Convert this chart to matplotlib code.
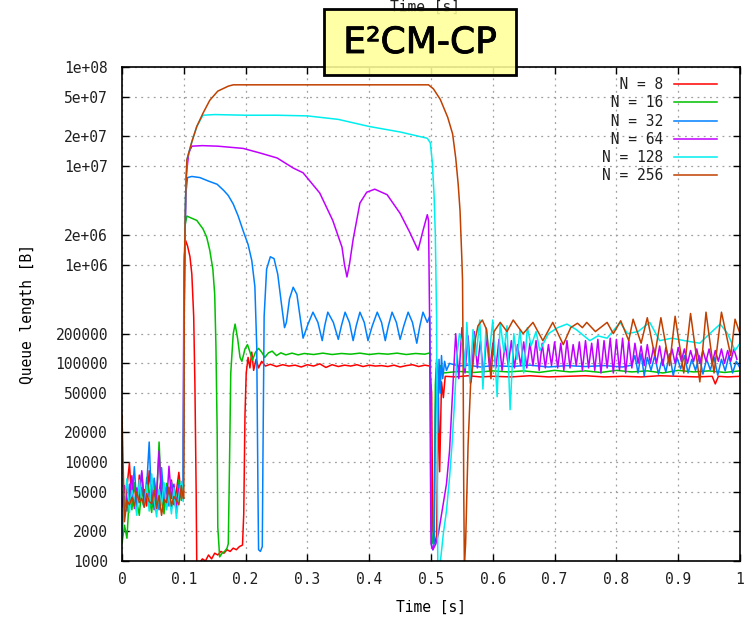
"""
E2CM-CP queue length vs time, N = 8 .. 256 (gnuplot-style log plot).
"""
import matplotlib
matplotlib.use("Agg")
import matplotlib.pyplot as plt
import matplotlib.patheffects as pe
from matplotlib.patches import Rectangle

# --- data ---------------------------------------------------------------
# shared sample times for the noisy start (0 .. 0.1 s)
PRE_T = [0.000, 0.004, 0.008, 0.012, 0.016, 0.020, 0.024, 0.028, 0.032, 0.036,
         0.040, 0.044, 0.048, 0.052, 0.056, 0.060, 0.064, 0.068, 0.072, 0.076,
         0.080, 0.084, 0.088, 0.092, 0.096, 0.099]

red_pre = [4200, 3400, 5600, 9800, 3900, 6100, 3300, 7400, 4600, 5300,
           3600, 8200, 4100, 6400, 3500, 4900, 7200, 3800, 5400, 4300,
           6600, 3700, 5100, 7900, 4400, 6800]
green_pre = [1500, 2300, 1700, 4800, 3300, 6200, 4000, 2900, 5500, 3600,
             7000, 4400, 3100, 5800, 3900, 16000, 4200, 3000, 6100, 4700,
             3400, 5200, 3800, 6600, 4100, 5000]
blue_pre = [2000, 4500, 3200, 6000, 4100, 9000, 3500, 5300, 7800, 4000,
            5800, 16000, 3700, 6900, 4500, 3300, 8800, 4200, 5600, 3600,
            6300, 4700, 3100, 5900, 4400, 5200]
magenta_pre = [3500, 5800, 3900, 4600, 7300, 3400, 5500, 4200, 8200, 3800,
               5100, 4500, 6800, 3300, 4900, 13000, 4100, 5700, 3500, 9100,
               4300, 6000, 3700, 5400, 4800, 4600]
cyan_pre = [1800, 3900, 6800, 3100, 5200, 4300, 2900, 6600, 4000, 3500,
            5900, 3200, 7600, 4100, 2800, 5300, 3700, 6200, 3300, 4700,
            3000, 5500, 2700, 4600, 6400, 4000]
brown_pre = [30000, 2500, 4100, 3700, 4400, 3600, 5000, 3900, 4300, 3500,
             4800, 4000, 3800, 5200, 3400, 4600, 2900, 4200, 3900, 5600,
             3600, 4500, 4100, 3700, 5800, 4300]

# (time [s], queue [B]) after t = 0.1 s
red_pts = [
    (0.100, 3.0e4), (0.101, 1.2e6), (0.103, 1.75e6), (0.106, 1.55e6), (0.110, 1.2e6),
    (0.113, 8.0e5), (0.116, 3.0e5), (0.118, 6.0e4), (0.120, 5.0e3), (0.121, 900),
    (0.125, 950), (0.130, 1050), (0.135, 1000), (0.140, 1150), (0.145, 1050),
    (0.150, 1200), (0.155, 1150), (0.160, 1250), (0.165, 1200), (0.170, 1300),
    (0.175, 1250), (0.180, 1350), (0.185, 1300), (0.190, 1400), (0.195, 1450),
    (0.197, 3000), (0.199, 3.0e4), (0.201, 8.0e4), (0.204, 1.15e5), (0.207, 9.0e4),
    (0.210, 1.3e5), (0.213, 8.5e4), (0.217, 1.1e5), (0.221, 9.0e4), (0.226, 1.05e5),
    (0.232, 9.4e4), (0.240, 9.8e4), (0.250, 9.3e4), (0.260, 9.7e4), (0.270, 9.4e4),
    (0.280, 9.6e4), (0.290, 9.2e4), (0.300, 9.7e4), (0.310, 9.4e4), (0.320, 9.9e4),
    (0.330, 9.1e4), (0.340, 9.7e4), (0.350, 9.3e4), (0.360, 9.6e4), (0.370, 9.4e4),
    (0.380, 9.7e4), (0.390, 9.3e4), (0.400, 9.6e4), (0.410, 9.4e4), (0.420, 9.5e4),
    (0.430, 9.3e4), (0.440, 9.6e4), (0.450, 9.2e4), (0.460, 9.5e4), (0.470, 9.7e4),
    (0.480, 9.3e4), (0.490, 9.6e4), (0.498, 9.4e4), (0.501, 5.0e4), (0.503, 2.0e3),
    (0.506, 1.5e3), (0.509, 1.8e3), (0.512, 4.5e4), (0.514, 8.0e3), (0.517, 6.5e4),
    (0.520, 4.5e4), (0.523, 7.4e4), (0.540, 7.3e4), (0.560, 7.5e4), (0.580, 7.3e4),
    (0.600, 7.4e4), (0.630, 7.3e4), (0.660, 7.5e4), (0.690, 7.3e4), (0.720, 7.4e4),
    (0.750, 7.5e4), (0.780, 7.3e4), (0.810, 7.4e4), (0.840, 7.3e4), (0.870, 7.5e4),
    (0.900, 7.4e4), (0.930, 7.3e4), (0.955, 7.4e4), (0.960, 6.2e4), (0.965, 7.4e4),
    (0.980, 7.3e4), (1.000, 7.4e4),
]

green_pts = [
    (0.100, 1.0e5), (0.102, 2.5e6), (0.105, 3.1e6), (0.110, 3.0e6), (0.121, 2.8e6),
    (0.131, 2.3e6), (0.137, 1.9e6), (0.142, 1.4e6), (0.147, 9.0e5), (0.150, 5.0e5),
    (0.152, 1.5e5), (0.154, 2.0e4), (0.155, 2.2e3), (0.158, 1.1e3), (0.162, 1.2e3),
    (0.166, 1.25e3), (0.170, 1.35e3), (0.172, 1.5e3), (0.174, 1.0e4), (0.176, 8.0e4),
    (0.180, 2.0e5), (0.183, 2.5e5), (0.187, 1.8e5), (0.191, 1.15e5), (0.194, 1.05e5),
    (0.199, 1.4e5), (0.203, 1.55e5), (0.208, 1.25e5), (0.211, 1.08e5), (0.216, 1.3e5),
    (0.221, 1.42e5), (0.226, 1.3e5), (0.231, 1.15e5), (0.237, 1.28e5), (0.243, 1.33e5),
    (0.250, 1.2e5), (0.257, 1.28e5), (0.265, 1.22e5), (0.275, 1.27e5), (0.285, 1.22e5),
    (0.295, 1.26e5), (0.310, 1.23e5), (0.325, 1.27e5), (0.340, 1.23e5), (0.355, 1.26e5),
    (0.370, 1.24e5), (0.385, 1.27e5), (0.400, 1.23e5), (0.415, 1.26e5), (0.430, 1.24e5),
    (0.445, 1.27e5), (0.460, 1.23e5), (0.475, 1.26e5), (0.490, 1.24e5), (0.499, 1.28e5),
    (0.500, 1.0e4), (0.501, 2.0e3), (0.503, 1.5e3), (0.505, 1.8e3), (0.507, 6.0e4),
    (0.509, 1.1e5), (0.512, 7.0e4), (0.515, 9.5e4), (0.520, 8.0e4), (0.545, 8.3e4),
    (0.570, 8.1e4), (0.600, 8.4e4), (0.625, 8.2e4), (0.650, 8.4e4), (0.675, 8.1e4),
    (0.700, 8.5e4), (0.725, 8.2e4), (0.750, 8.4e4), (0.775, 8.1e4), (0.800, 8.5e4),
    (0.825, 8.2e4), (0.850, 8.4e4), (0.875, 8.0e4), (0.900, 8.5e4), (0.925, 8.2e4),
    (0.950, 8.4e4), (0.975, 8.1e4), (1.000, 8.4e4),
]

blue_pts = [
    (0.100, 2.0e5), (0.103, 5.0e6), (0.106, 7.6e6), (0.113, 7.8e6), (0.126, 7.6e6),
    (0.140, 7.0e6), (0.154, 6.5e6), (0.165, 5.6e6), (0.172, 5.0e6), (0.180, 4.1e6),
    (0.188, 3.1e6), (0.196, 2.2e6), (0.204, 1.6e6), (0.210, 1.1e6), (0.215, 6.0e5),
    (0.218, 1.5e5), (0.220, 5.0e3), (0.221, 1.3e3), (0.224, 1.25e3), (0.227, 1.4e3),
    (0.228, 1.0e4), (0.230, 3.0e5), (0.234, 9.0e5), (0.240, 1.2e6), (0.246, 1.15e6),
    (0.252, 8.0e5), (0.258, 4.0e5), (0.263, 2.3e5), (0.266, 2.6e5), (0.271, 4.5e5),
    (0.277, 5.9e5), (0.283, 5.0e5), (0.288, 3.0e5), (0.293, 1.8e5), (0.301, 2.5e5),
    (0.309, 3.3e5), (0.317, 2.6e5), (0.324, 1.7e5), (0.328, 2.4e5), (0.333, 3.3e5),
    (0.342, 2.6e5), (0.350, 1.75e5), (0.355, 2.4e5), (0.361, 3.3e5), (0.368, 2.6e5),
    (0.374, 1.7e5), (0.379, 2.4e5), (0.385, 3.3e5), (0.392, 2.6e5), (0.398, 1.7e5),
    (0.405, 2.4e5), (0.413, 3.3e5), (0.420, 2.6e5), (0.426, 1.7e5), (0.431, 2.4e5),
    (0.437, 3.3e5), (0.444, 2.6e5), (0.450, 1.75e5), (0.456, 2.4e5), (0.463, 3.3e5),
    (0.470, 2.6e5), (0.477, 1.6e5), (0.482, 2.4e5), (0.487, 3.3e5), (0.494, 2.6e5),
    (0.498, 3.0e5), (0.500, 1.0e4), (0.501, 1.4e3), (0.503, 1.3e3), (0.505, 1.5e3),
    (0.507, 3.0e4), (0.509, 9.0e4), (0.511, 2.0e4), (0.513, 1.1e5), (0.515, 5.0e4),
    (0.517, 1.2e5), (0.519, 7.0e4), (0.522, 1.05e5), (0.525, 8.5e4), (0.530, 1.0e5),
    (0.545, 9.4e4), (0.560, 9.6e4), (0.580, 9.2e4), (0.600, 9.5e4), (0.630, 9.3e4),
    (0.660, 9.6e4), (0.690, 9.2e4), (0.720, 9.5e4), (0.750, 9.3e4), (0.780, 9.5e4),
    (0.810, 9.2e4), (0.825, 9.6e4), (0.830, 1.2e5), (0.835, 8.0e4), (0.840, 1.25e5),
    (0.845, 7.5e4), (0.850, 1.15e5), (0.856, 8.5e4), (0.862, 1.2e5), (0.868, 7.8e4),
    (0.874, 1.1e5), (0.880, 8.2e4), (0.886, 1.25e5), (0.892, 7.5e4), (0.898, 1.15e5),
    (0.904, 8.8e4), (0.910, 1.2e5), (0.916, 8.0e4), (0.922, 1.1e5), (0.928, 8.5e4),
    (0.934, 1.2e5), (0.940, 7.8e4), (0.946, 1.1e5), (0.952, 8.6e4), (0.958, 1.15e5),
    (0.964, 7.6e4), (0.970, 1.1e5), (0.976, 8.4e4), (0.982, 1.2e5), (0.988, 8.0e4),
    (0.994, 1.05e5), (1.000, 9.0e4),
]

magenta_pts = [
    (0.100, 5.0e5), (0.104, 8.0e6), (0.108, 1.35e7), (0.113, 1.58e7), (0.130, 1.6e7),
    (0.155, 1.58e7), (0.196, 1.5e7), (0.223, 1.35e7), (0.251, 1.2e7), (0.277, 9.5e6),
    (0.293, 8.5e6), (0.320, 5.3e6), (0.341, 2.8e6), (0.356, 1.5e6), (0.360, 1.0e6),
    (0.364, 7.5e5), (0.368, 1.0e6), (0.374, 1.8e6), (0.385, 4.2e6), (0.396, 5.4e6),
    (0.409, 5.8e6), (0.429, 5.1e6), (0.450, 3.3e6), (0.466, 2.1e6), (0.479, 1.4e6),
    (0.487, 2.2e6), (0.494, 3.2e6), (0.496, 2.8e6), (0.498, 2.0e5), (0.499, 1.0e4),
    (0.500, 1.5e3), (0.503, 1.3e3), (0.508, 1.5e3), (0.512, 1.9e3), (0.516, 2.7e3),
    (0.520, 3.8e3), (0.525, 6.0e3), (0.530, 1.3e4), (0.534, 4.0e4), (0.538, 1.2e5),
]

# magenta keeps oscillating fast after 0.54 s
MAG_TAIL_T = [0.540, 0.545, 0.550, 0.555, 0.560, 0.565, 0.570, 0.575, 0.580, 0.585,
              0.590, 0.595, 0.600, 0.605, 0.610, 0.615, 0.620, 0.625, 0.630, 0.635,
              0.640, 0.645, 0.650, 0.655, 0.660, 0.665, 0.670, 0.675, 0.680, 0.685,
              0.690, 0.695, 0.700, 0.705, 0.710, 0.715, 0.720, 0.725, 0.730, 0.735,
              0.740, 0.745, 0.750, 0.755, 0.760, 0.765, 0.770, 0.775, 0.780, 0.785,
              0.790, 0.795, 0.800, 0.805, 0.810, 0.815, 0.820, 0.825, 0.830, 0.835,
              0.840, 0.845, 0.850, 0.855, 0.860, 0.865, 0.870, 0.875, 0.880, 0.885,
              0.890, 0.895, 0.900, 0.905, 0.910, 0.915, 0.920, 0.925, 0.930, 0.935,
              0.940, 0.945, 0.950, 0.955, 0.960, 0.965, 0.970, 0.975, 0.980, 0.985,
              0.990, 0.995]
mag_tail = [2.0e5, 7.0e4, 2.3e5, 8.0e4, 1.9e5, 6.5e4, 2.1e5, 9.0e4, 1.7e5, 7.5e4,
            1.9e5, 8.5e4, 1.6e5, 9.0e4, 1.75e5, 8.5e4, 1.6e5, 9.5e4, 1.7e5, 9.0e4,
            1.55e5, 9.5e4, 1.65e5, 9.0e4, 1.6e5, 9.5e4, 1.7e5, 8.5e4, 1.6e5, 9.0e4,
            1.55e5, 9.5e4, 1.65e5, 9.0e4, 1.6e5, 8.5e4, 1.7e5, 9.0e4, 1.55e5, 9.5e4,
            1.65e5, 8.5e4, 1.7e5, 9.0e4, 1.6e5, 8.5e4, 1.75e5, 8.0e4, 1.7e5, 9.0e4,
            1.8e5, 8.0e4, 1.75e5, 8.5e4, 1.8e5, 8.0e4, 1.7e5, 9.0e4, 1.6e5, 1.0e5,
            1.5e5, 9.5e4, 1.55e5, 1.0e5, 1.45e5, 1.0e5, 1.5e5, 9.5e4, 1.45e5, 1.05e5,
            1.4e5, 1.0e5, 1.45e5, 1.05e5, 1.4e5, 1.0e5, 1.35e5, 1.05e5, 1.4e5, 1.0e5,
            1.35e5, 1.05e5, 1.4e5, 1.0e5, 1.35e5, 1.05e5, 1.4e5, 1.0e5, 1.35e5, 1.05e5,
            1.4e5, 1.1e5]

cyan_pts = [
    (0.100, 5.0e4), (0.101, 1.0e6), (0.102, 2.4e6), (0.103, 5.0e6), (0.105, 1.15e7),
    (0.113, 1.75e7), (0.121, 2.5e7), (0.131, 3.25e7), (0.150, 3.3e7), (0.200, 3.25e7),
    (0.250, 3.25e7), (0.300, 3.2e7), (0.350, 2.95e7), (0.400, 2.5e7), (0.450, 2.2e7),
    (0.494, 1.9e7), (0.499, 1.7e7), (0.502, 1.1e7), (0.505, 5.0e6), (0.507, 2.0e6),
    (0.509, 3.0e5), (0.510, 2.0e4), (0.511, 900), (0.514, 900), (0.516, 1100),
    (0.520, 1900), (0.525, 3200), (0.530, 7000), (0.534, 1.5e4), (0.538, 4.0e4),
    (0.542, 1.2e5), (0.546, 2.0e5), (0.552, 1.5e5), (0.555, 9.0e4), (0.558, 2.6e5),
    (0.563, 6.3e4), (0.568, 2.2e5), (0.573, 1.2e5), (0.579, 2.75e5), (0.584, 5.5e4),
    (0.589, 2.3e5), (0.594, 1.2e5), (0.600, 2.75e5), (0.607, 4.6e4), (0.612, 2.6e5),
    (0.618, 1.3e5), (0.623, 2.4e5), (0.628, 3.4e4), (0.634, 2.0e5), (0.639, 1.1e5),
    (0.644, 2.2e5), (0.650, 8.0e4), (0.656, 2.3e5), (0.662, 1.5e5), (0.670, 2.1e5),
    (0.676, 1.35e5), (0.690, 2.0e5), (0.705, 2.3e5), (0.720, 2.5e5), (0.735, 2.2e5),
    (0.757, 1.7e5), (0.770, 1.9e5), (0.785, 1.8e5), (0.806, 2.6e5), (0.818, 2.0e5),
    (0.835, 2.1e5), (0.854, 2.6e5), (0.870, 1.7e5), (0.890, 1.8e5), (0.910, 1.7e5),
    (0.935, 1.6e5), (0.951, 2.0e5), (0.968, 2.5e5), (0.980, 2.0e5), (0.992, 1.35e5),
    (1.000, 1.6e5),
]

brown_pts = [
    (0.100, 4300), (0.101, 1.0e6), (0.102, 2.4e6), (0.103, 5.0e6), (0.105, 1.15e7),
    (0.113, 1.75e7), (0.121, 2.5e7), (0.131, 3.4e7), (0.142, 4.6e7), (0.155, 5.7e7),
    (0.172, 6.4e7), (0.180, 6.6e7), (0.300, 6.6e7), (0.400, 6.6e7), (0.496, 6.6e7),
    (0.504, 6.0e7), (0.515, 4.7e7), (0.527, 3.1e7), (0.535, 2.1e7), (0.540, 1.2e7),
    (0.544, 6.5e6), (0.547, 3.5e6), (0.550, 1.1e6), (0.551, 7.0e5), (0.552, 1.0e5),
    (0.553, 5.0e3), (0.554, 900), (0.556, 1500), (0.560, 1.5e4), (0.564, 6.0e4),
    (0.568, 1.0e5), (0.572, 1.8e5), (0.576, 2.4e5), (0.583, 2.75e5), (0.590, 2.2e5),
    (0.597, 7.0e4), (0.602, 2.1e5), (0.612, 2.6e5), (0.623, 2.1e5), (0.633, 2.75e5),
    (0.649, 2.0e5), (0.665, 2.6e5), (0.681, 1.7e5), (0.697, 2.6e5), (0.714, 1.55e5),
    (0.726, 2.3e5), (0.737, 2.55e5), (0.745, 2.3e5), (0.752, 2.6e5), (0.766, 2.1e5),
    (0.785, 2.6e5), (0.795, 2.0e5), (0.807, 2.7e5), (0.820, 1.7e5), (0.827, 2.8e5),
    (0.840, 1.6e5), (0.850, 2.9e5), (0.862, 1.2e5), (0.872, 2.9e5), (0.886, 9.5e4),
    (0.895, 3.0e5), (0.909, 8.0e4), (0.920, 3.2e5), (0.935, 6.5e4), (0.945, 3.3e5),
    (0.958, 8.0e4), (0.970, 3.3e5), (0.985, 1.2e5), (0.992, 2.8e5), (1.000, 2.0e5),
]

LABELS = ["  N = 8", " N = 16", " N = 32", " N = 64", "N = 128", "N = 256"]
COLORS = ["#ff0000", "#00c000", "#0080ff", "#c000ff", "#00eeee", "#c04000"]

YTICKS = [1e3, 2e3, 5e3, 1e4, 2e4, 5e4, 1e5, 2e5, 1e6, 2e6, 1e7, 2e7, 5e7, 1e8]
YTICK_LABELS = ["1000", "2000", "5000", "10000", "20000", "50000", "100000",
                "200000", "1e+06", "2e+06", "1e+07", "2e+07", "5e+07", "1e+08"]
XTICKS = [0, 0.1, 0.2, 0.3, 0.4, 0.5, 0.6, 0.7, 0.8, 0.9, 1]
XTICK_LABELS = ["0", "0.1", "0.2", "0.3", "0.4", "0.5", "0.6", "0.7", "0.8", "0.9", "1"]


def build_series():
    out = []
    pres = [red_pre, green_pre, blue_pre, magenta_pre, cyan_pre, brown_pre]
    mains = [red_pts, green_pts, blue_pts, magenta_pts, cyan_pts, brown_pts]
    for i, (pre, pts) in enumerate(zip(pres, mains)):
        t = list(PRE_T) + [p[0] for p in pts]
        q = list(pre) + [p[1] for p in pts]
        if i == 3:  # N = 64 has its own dense tail
            t += MAG_TAIL_T
            q += mag_tail
        out.append((t, q))
    return out


def main():
    plt.rcParams["font.family"] = "DejaVu Sans Mono"
    plt.rcParams["font.size"] = 10.5
    plt.rcParams["text.color"] = "#202020"

    W, H = 747, 618
    fig = plt.figure(figsize=(W / 100, H / 100), dpi=100)
    ax = fig.add_axes([122 / W, 57 / H, 618 / W, 494 / H])

    for (t, q), lab, col in zip(build_series(), LABELS, COLORS):
        ax.plot(t, q, color=col, lw=1.1, label=lab)

    ax.set_yscale("log")
    ax.set_xlim(0, 1)
    ax.set_ylim(1e3, 1e8)
    ax.set_yticks(YTICKS)
    ax.set_yticklabels(YTICK_LABELS)
    ax.yaxis.set_minor_locator(matplotlib.ticker.NullLocator())
    ax.set_xticks(XTICKS)
    ax.set_xticklabels(XTICK_LABELS)
    ax.tick_params(direction="in", length=5, width=1, top=True, right=True,
                   color="black", labelcolor="#202020")
    ax.tick_params(axis="y", pad=10)
    ax.tick_params(axis="x", pad=8)
    ax.grid(True, linestyle=(0, (1.5, 3.5)), color="#a0a0a0", lw=0.9)
    for s in ax.spines.values():
        s.set_linewidth(1.2)

    ax.set_xlabel("Time [s]", labelpad=9)
    ax.set_ylabel("Queue length [B]", labelpad=15)
    # x2 label, mostly hidden behind the title box
    fig.text(425 / W, 1 - 7 / H, "Time [s]", ha="center", va="center")

    leg = ax.legend(loc="upper right", bbox_to_anchor=(0.98, 1.0),
                    frameon=False, markerfirst=False, handlelength=3.0,
                    handletextpad=0.7, labelspacing=0.22, borderaxespad=0.3)
    leg.set_zorder(5)

    # yellow title box
    box = Rectangle((324 / W, 1 - 75 / H), 192 / W, 66 / H,
                    transform=fig.transFigure, facecolor=(1, 1, 0.6, 0.88),
                    edgecolor="black", lw=2, zorder=10)
    fig.patches.append(box)
    fig.text(420 / W, 1 - 43 / H, "E²CM-CP", ha="center", va="center",
             fontsize=26, family="DejaVu Sans", color="black", zorder=11,
             path_effects=[pe.withStroke(linewidth=0.6, foreground="black")])

    fig.savefig("out.png", dpi=100)
    plt.close(fig)


if __name__ == "__main__":
    main()
